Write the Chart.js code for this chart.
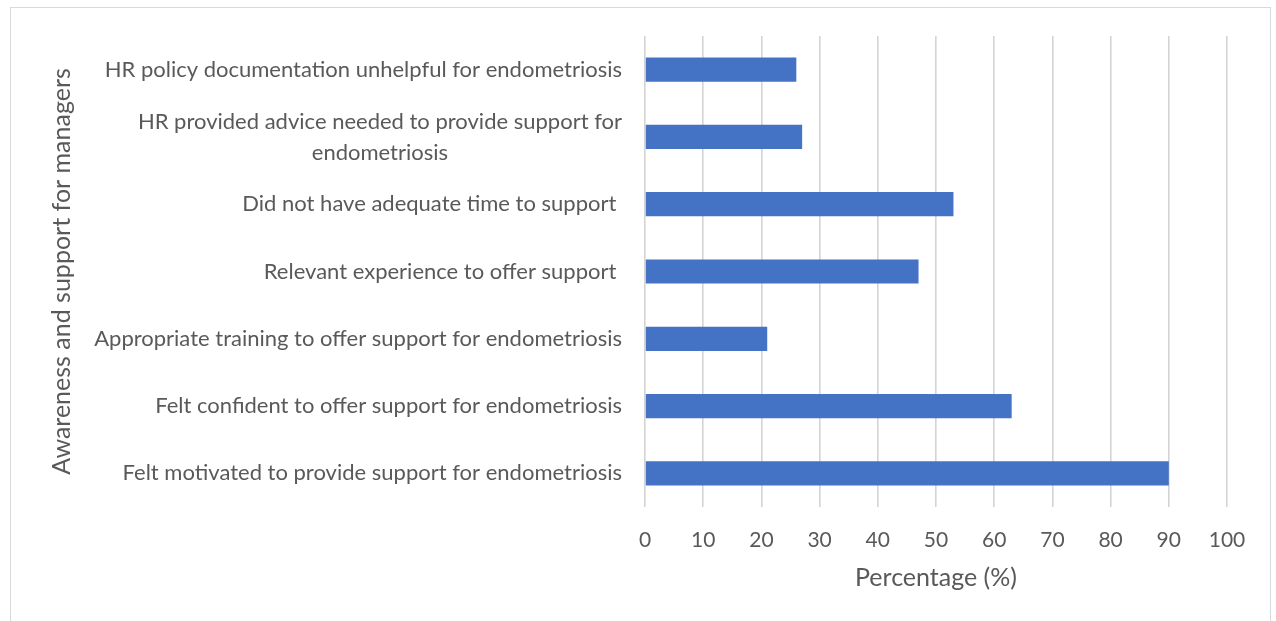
<!DOCTYPE html>
<html>
<head>
<meta charset="utf-8">
<script src="https://cdn.jsdelivr.net/npm/chart.js@4"></script>
<style>
  html, body { margin: 0; padding: 0; background: #fff; }
  #wrap { position: relative; width: 1276px; height: 621px; }
  #frame { position: absolute; left: 10px; top: 7px; width: 1261px; height: 620px; border: 1px solid #d9d9d9; box-sizing: border-box; pointer-events: none; }
</style>
</head>
<body>
<div id="wrap">
  <canvas id="bar-chart" width="1276" height="621"></canvas>
  <div id="frame"></div>
</div>
<script>
// categories top to bottom, long one split over two lines
const categories = [
  "HR policy documentation unhelpful for endometriosis",
  ["HR provided advice needed to provide support for", "endometriosis"],
  "Did not have adequate time to support ",
  "Relevant experience to offer support ",
  "Appropriate training to offer support for endometriosis",
  "Felt confident to offer support for endometriosis",
  "Felt motivated to provide support for endometriosis"
];
const percentages = [26, 27, 53, 47, 21, 63, 90];
const xTicks = [0, 10, 20, 30, 40, 50, 60, 70, 80, 90, 100];

const FONT = "Lato, 'Open Sans', sans-serif";
const TEXT = "#595959";

// draws the category labels: single lines right aligned, wrapped lines centred on the first
const categoryLabels = {
  id: "categoryLabels",
  afterDraw(chart) {
    const ctx = chart.ctx;
    const y = chart.scales.y;
    const right = chart.chartArea.left - 23;
    ctx.save();
    ctx.fillStyle = TEXT;
    ctx.font = "22px " + FONT;
    ctx.textBaseline = "middle";
    categories.forEach((label, i) => {
      const cy = y.getPixelForTick(i);
      if (Array.isArray(label)) {
        const lh = 31;
        const w0 = ctx.measureText(label[0]).width;
        const mid = right - w0 / 2;
        ctx.textAlign = "center";
        label.forEach((line, j) => {
          ctx.fillText(line, mid, cy + (j - (label.length - 1) / 2) * lh);
        });
      } else {
        ctx.textAlign = "right";
        ctx.fillText(label, right, cy);
      }
    });
    ctx.restore();
  }
};

new Chart(document.getElementById("bar-chart"), {
  type: "bar",
  data: {
    labels: categories,
    datasets: [{
      data: percentages,
      backgroundColor: "#4472C4",
      borderWidth: 0,
      categoryPercentage: 1,
      barPercentage: 0.36
    }]
  },
  options: {
    indexAxis: "y",
    responsive: false,
    animation: false,
    layout: { padding: { top: 36, right: 49, left: 0, bottom: 0 } },
    plugins: { legend: { display: false }, tooltip: { enabled: false } },
    scales: {
      x: {
        min: 0,
        max: 100,
        afterBuildTicks: (s) => { s.ticks = xTicks.map(v => ({ value: v })); },
        afterFit: (s) => { s.height = 114; },
        grid: { color: "#d4d4d4", lineWidth: 1.6, drawTicks: false },
        border: { display: false },
        ticks: { color: TEXT, font: { family: FONT, size: 21 }, padding: 21 },
        title: {
          display: true,
          text: "Percentage (%)",
          color: TEXT,
          font: { family: FONT, size: 25 },
          padding: { top: 0, bottom: 28 }
        }
      },
      y: {
        afterFit: (s) => { s.width = 645; },
        grid: { display: false },
        border: { display: false },
        ticks: { display: false },
        title: {
          display: true,
          text: "Awareness and support for managers",
          color: TEXT,
          font: { family: FONT, size: 25 },
          padding: { top: 47, bottom: 0 }
        }
      }
    }
  },
  plugins: [categoryLabels]
});
</script>
</body>
</html>
